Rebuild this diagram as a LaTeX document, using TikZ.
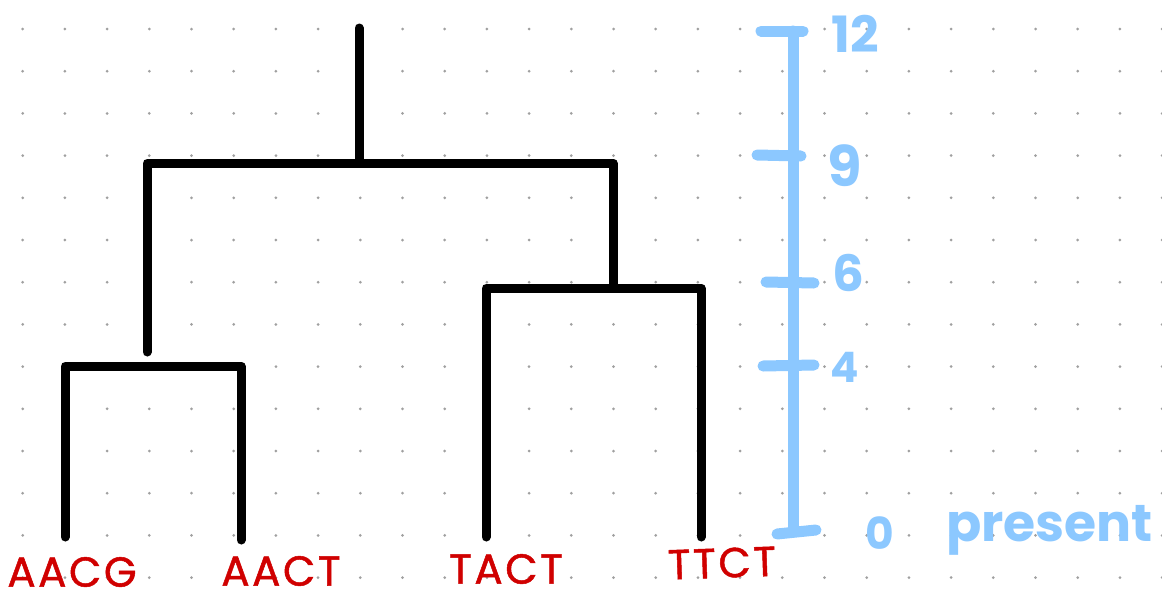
\documentclass[tikz,border=0pt]{standalone}
\usepackage{fontspec}
\newfontfamily\handfont{Poppins}
\definecolor{inkblue}{HTML}{8CC8FF}
\definecolor{inkred}{HTML}{D00000}
\definecolor{dotgray}{HTML}{A0A0A0}
\tikzset{
  branch/.style={line width=9pt, line cap=round, line join=round, black},
  scalebar/.style={line width=11pt, line cap=round, inkblue},
  taxon/.style={inner sep=0pt, text=inkred, font=\handfont\fontsize{42}{42}\selectfont\addfontfeatures{LetterSpace=6,FakeBold=1.2}},
  agelabel/.style={inner sep=0pt, text=inkblue, font=\handfont\bfseries\fontsize{50}{50}\selectfont},
}
\begin{document}
\begin{tikzpicture}[x=1pt, y=-1pt]
  % page frame
  \path[fill=white] (0,0) rectangle (1162,600);
  \useasboundingbox (0,0) rectangle (1162,600);

  % dotted paper
  \foreach \i in {0,...,27} {
    \foreach \j in {0,...,13} {
      \fill[dotgray] ({22.7+42.2*\i},{29+42.2*\j}) circle (1.5pt);
    }
  }

  % tree joints and tips
  \coordinate (top)  at (359,28);
  \coordinate (root) at (359,163);
  \coordinate (cL)   at (147,352);
  \coordinate (hL)   at (147,366);
  \coordinate (cR)   at (613,288);
  \coordinate (aacg) at (65,537);
  \coordinate (aact) at (241,540);
  \coordinate (tact) at (486,537);
  \coordinate (ttct) at (701,537);

  % branches
  \draw[branch] (top) -- (root);
  \draw[branch] (cL) |- (root) -| (cR);
  \draw[branch] (aacg) |- (hL) -| (aact);
  \draw[branch] (tact) |- (cR) -| (ttct);

  % sequences at the tips
  \node[taxon] (lab1) at (72,572) {AACG};
  \node[taxon] (lab2) at (281,571) {AACT};
  \node[taxon] (lab3) at (506,569) {TACT};
  \node[taxon, rotate=2] (lab4) at (722,563) {TTCT};

  % time scale
  \coordinate (s12) at (793,31);
  \coordinate (s0)  at (793,530);
  \draw[scalebar] (s12) -- (s0);
  \draw[scalebar] (761,31) -- (803,31);
  \draw[scalebar] (757,155) -- (801,156);
  \draw[scalebar] (766,282) -- (814,283);
  \draw[scalebar] (763,366) -- (814,365);
  \draw[scalebar] (777,534) -- (816,530);

  \node[agelabel] (t12) at (855,34) {12};
  \node[agelabel, font=\handfont\bfseries\fontsize{56}{56}\selectfont] (t9) at (845,166) {9};
  \node[agelabel] (t6)  at (848,273) {6};
  \node[agelabel, font=\handfont\bfseries\fontsize{42}{42}\selectfont] (t4) at (845,367) {4};
  \node[agelabel, font=\handfont\bfseries\fontsize{44}{44}\selectfont] (t0) at (880,533) {0};
  \node[agelabel, anchor=base west, font=\handfont\bfseries\fontsize{52}{52}\selectfont] (now) at (946,541) {present};
\end{tikzpicture}
\end{document}
